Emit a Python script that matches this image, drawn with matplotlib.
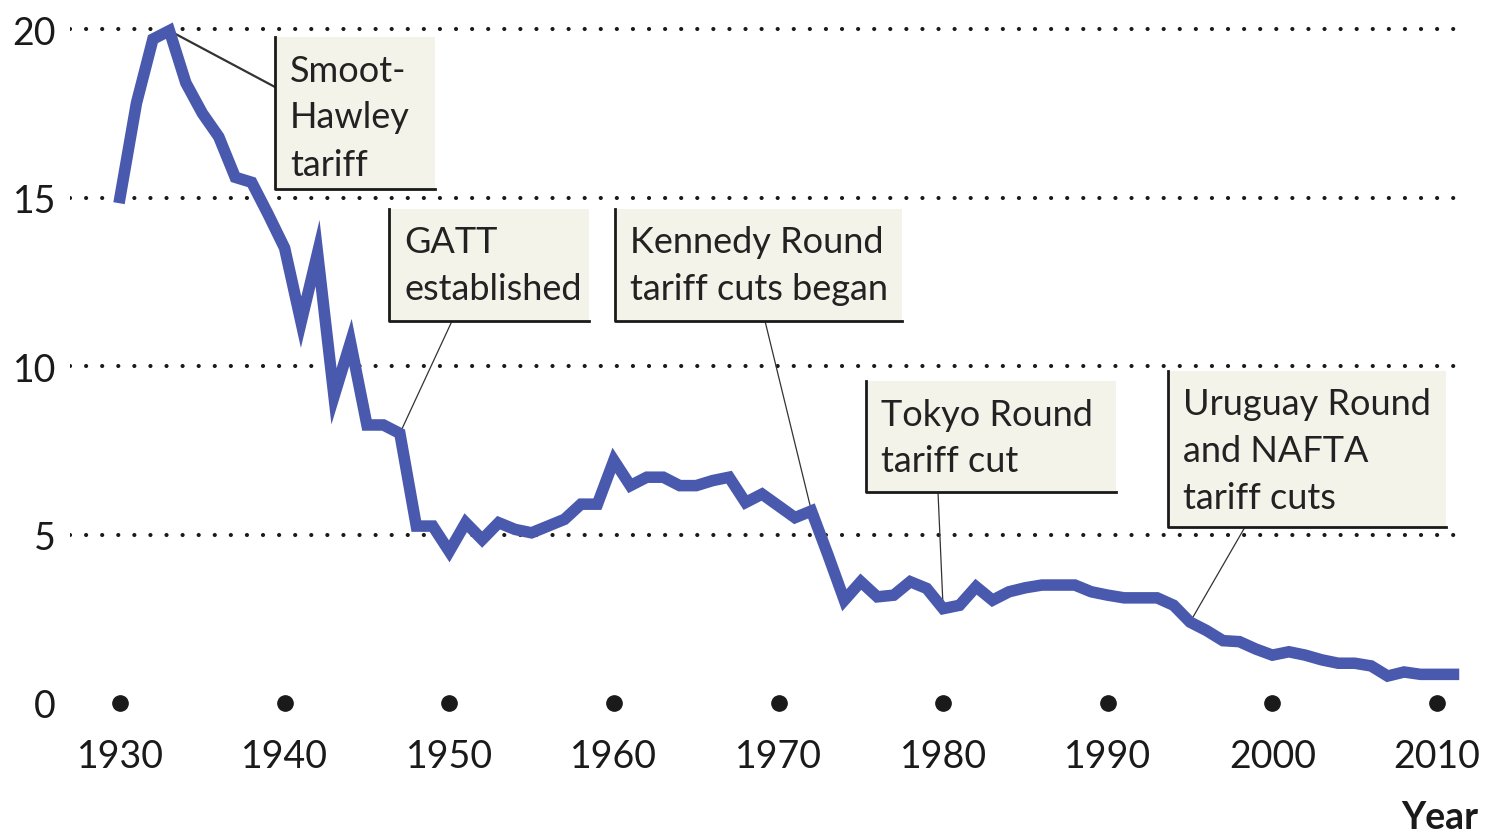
import numpy as np
import matplotlib
matplotlib.use("Agg")
import matplotlib.pyplot as plt
from matplotlib.patches import Rectangle
from matplotlib.lines import Line2D

plt.rcParams['font.family'] = ['Lato', 'DejaVu Sans']

# average US tariff rate (%)
years = list(range(1930, 2012))
tariff = [
    15.0, 17.8, 19.7, 19.95, 18.4, 17.5, 16.8, 15.6, 15.45, 14.5,   # 1930-39
    13.5, 11.3, 13.35, 9.1, 10.7, 8.25, 8.25, 8.0, 5.25, 5.25,      # 1940-49
    4.5, 5.35, 4.85, 5.35, 5.15, 5.05, 5.25, 5.45, 5.9, 5.9,        # 1950-59
    7.2, 6.45, 6.7, 6.7, 6.45, 6.45, 6.6, 6.7, 5.95, 6.2,           # 1960-69
    5.85, 5.5, 5.7, 4.4, 3.05, 3.6, 3.15, 3.2, 3.6, 3.4,            # 1970-79
    2.8, 2.9, 3.45, 3.05, 3.3, 3.42, 3.5, 3.5, 3.5, 3.3,            # 1980-89
    3.2, 3.12, 3.12, 3.12, 2.9, 2.4, 2.15, 1.85, 1.82, 1.6,         # 1990-99
    1.42, 1.52, 1.42, 1.28, 1.18, 1.18, 1.1, 0.8, 0.92, 0.85,       # 2000-09
    0.85, 0.85,                                                     # 2010-11
]

decades = [1930, 1940, 1950, 1960, 1970, 1980, 1990, 2000, 2010]
y_ticks = [0, 5, 10, 15, 20]

# annotation text, the year each one points at, and the box (pixels from top-left)
notes = [
    (["Smoot-", "Hawley", "tariff"], 1933, (275, 38, 435, 190), (275, 88)),
    (["GATT", "established"], 1947, (389, 210, 589, 322), (452, 322)),
    (["Kennedy Round", "tariff cuts began"], 1972, (615, 210, 902, 322), (765, 322)),
    (["Tokyo Round", "tariff cut"], 1980, (866, 382, 1116, 493), (938, 493)),
    (["Uruguay Round", "and NAFTA", "tariff cuts"], 1995, (1168, 372, 1446, 528), (1245, 528)),
]

W, H = 1486, 837
fig = plt.figure(figsize=(W / 100, H / 100), dpi=100)

# axes placed so that 1930 -> x=120 px, 2010 -> x=1437 px, 0 -> y=704 px, 20 -> y=30 px
px_year = (1437 - 120) / 80
px_unit = (704 - 30) / 20
ax_left, ax_right, ax_top, ax_bottom = 70, 1468, 15, 725
ax = fig.add_axes([ax_left / W, 1 - ax_bottom / H, (ax_right - ax_left) / W, (ax_bottom - ax_top) / H])
ax.set_xlim(1930 - (120 - ax_left) / px_year, 1930 + (ax_right - 120) / px_year)
ax.set_ylim(-(ax_bottom - 704) / px_unit, 20 + (30 - ax_top) / px_unit)

# dotted gridlines
for v in y_ticks[1:]:
    ax.axhline(v, color='#1a1a1a', linewidth=3.0, linestyle=(0, (0.01, 3.85)),
               dash_capstyle='round', zorder=1)

# decade dots on the zero line
ax.plot(decades, [0] * len(decades), 'o', color='#1a1a1a', markersize=11, zorder=2)

# the tariff line
ax.plot(years, tariff, color='#4959ad', linewidth=8.3, solid_joinstyle='miter', zorder=4)

ax.set_xticks(decades)
ax.set_xticklabels([str(d) for d in decades])
ax.set_yticks(y_ticks)
ax.set_yticklabels([str(v) for v in y_ticks])
ax.tick_params(length=0, labelsize=27, labelcolor='#1a1a1a')
ax.tick_params(axis='x', pad=10)
ax.tick_params(axis='y', pad=10)
for s in ax.spines.values():
    s.set_visible(False)


def fig_xy(px, py):
    return px / W, 1 - py / H


# annotation boxes with dark left and bottom edges
for lines, yr, (x0, y0, x1, y1), anchor in notes:
    fx0, fy1 = fig_xy(x0, y1)
    fx1, fy0 = fig_xy(x1, y0)
    fig.patches.append(Rectangle((fx0, fy1), fx1 - fx0, fy0 - fy1, transform=fig.transFigure,
                                 facecolor='#f4f3ea', edgecolor='none', zorder=5))
    fig.lines.append(Line2D([fx0, fx0, fx1], [fy0, fy1, fy1], transform=fig.transFigure,
                            color='#1a1a1a', linewidth=2, zorder=6))
    for i, txt in enumerate(lines):
        tx, ty = fig_xy(x0 + 15, y0 + 33 + i * 47)
        fig.text(tx, ty, txt, fontsize=26, color='#222222', va='center', ha='left', zorder=7)
    val = tariff[years.index(yr)]
    lw = 1.6 if yr == 1933 else 0.9
    ax.annotate('', xy=(yr, val), xycoords='data',
                xytext=(anchor[0], H - anchor[1]), textcoords='figure pixels',
                arrowprops=dict(arrowstyle='-', color='#333333', linewidth=lw,
                                shrinkA=0, shrinkB=0), zorder=3)

fig.text(1440 / W, 1 - 818 / H, "Year", fontsize=27, fontweight='bold',
         color='#1a1a1a', ha='center', va='center')

fig.savefig("out.png", dpi=100)
